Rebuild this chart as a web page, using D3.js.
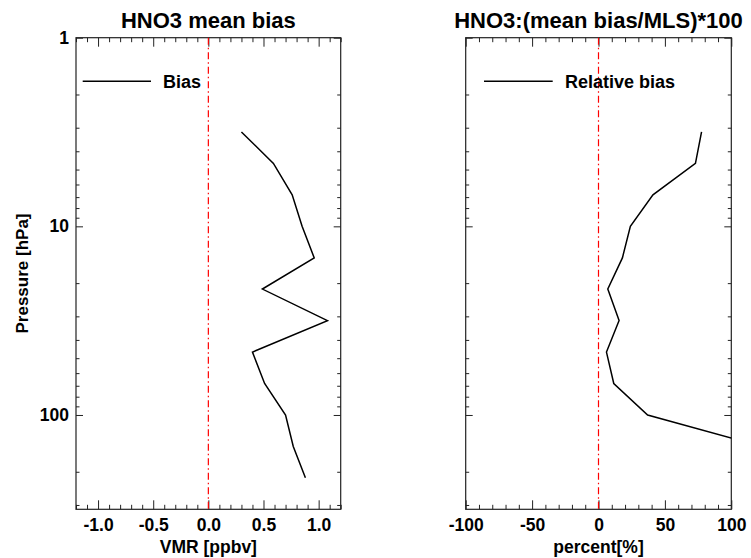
<!DOCTYPE html>
<html>
<head>
<meta charset="utf-8">
<script src="https://cdn.jsdelivr.net/npm/d3@7"></script>
<style>
  body { margin: 0; background: #fff; }
  svg text { font-family: "Liberation Sans", Arial, sans-serif; font-weight: bold; fill: #000; }
</style>
</head>
<body>
<svg id="chart"></svg>
<script>
/* DATA */
const pressure = [3.16, 4.64, 6.81, 10, 14.7, 21.5, 31.6, 46.4, 68.1, 100, 147, 215];
const bias = [0.30, 0.59, 0.76, 0.85, 0.96, 0.49, 1.08, 0.40, 0.51, 0.70, 0.77, 0.88];
const relBias = [77.6, 73.0, 41.0, 24.0, 18.0, 7.0, 15.5, 6.0, 11.5, 37.0, 123, 170];
const biasTicks = [-1.0, -0.5, 0.0, 0.5, 1.0];
const relTicks = [-100, -50, 0, 50, 100];
const pressureTicks = [1, 10, 100];
const pressureMinor = [2, 3, 4, 5, 6, 7, 8, 9, 20, 30, 40, 50, 60, 70, 80, 90, 200, 300];

/* CONSTANTS */
const width = 751,
  height = 558,
  plotTop = 37.7,
  plotBottom = 509.3,
  tickFont = 17.5,
  labelFont = 17.5;

const panels = [
  {
    left: 76, right: 340.7,
    domain: [-1.2, 1.2], ticks: biasTicks, minorStep: 0.1, fmt: d3.format(".1f"),
    values: bias, title: "HNO3 mean bias", xLabel: "VMR [ppbv]",
    legend: "Bias", legLine: [6.7, 75], legText: 87, yLabels: true
  },
  {
    left: 465.7, right: 731.3,
    domain: [-100, 100], ticks: relTicks, minorStep: 10, fmt: d3.format("d"),
    values: relBias, title: "HNO3:(mean bias/MLS)*100", xLabel: "percent[%]",
    legend: "Relative bias", legLine: [18.3, 87], legText: 99.3, yLabels: false
  }
];

const svg = d3.select("#chart")
  .attr("width", width)
  .attr("height", height);

const yScale = d3.scaleLog()
  .domain([1, Math.pow(10, 2.5)])
  .range([plotTop, plotBottom]);

panels.forEach((p, i) => drawPanel(p, i));

function drawPanel(p, i) {
  const xScale = d3.scaleLinear()
    .domain(p.domain)
    .range([p.left, p.right]);

  const minor = d3.range(p.domain[0], p.domain[1] + p.minorStep / 2, p.minorStep)
    .map(v => +v.toFixed(4))
    .filter(v => !p.ticks.some(t => Math.abs(t - v) < 1e-6));

  // plain hyphen, like the original plot
  const fmt = d => p.fmt(d).replace("\u2212", "-");

  const g = svg.append("g");

  // clip
  svg.append("clipPath")
    .attr("id", "clip" + i)
    .append("rect")
    .attr("x", p.left)
    .attr("y", plotTop)
    .attr("width", p.right - p.left)
    .attr("height", plotBottom - plotTop);

  // bottom axis, major + labels
  g.append("g")
    .attr("transform", `translate(0, ${plotBottom})`)
    .call(d3.axisBottom(xScale).tickValues(p.ticks).tickSize(-9).tickSizeOuter(0)
      .tickPadding(9.5).tickFormat(fmt))
    .call(styleAxis, tickFont);
  g.append("g")
    .attr("transform", `translate(0, ${plotBottom})`)
    .call(d3.axisBottom(xScale).tickValues(minor).tickSize(-4.5).tickSizeOuter(0).tickFormat(""))
    .call(styleAxis);

  // top axis
  g.append("g")
    .attr("transform", `translate(0, ${plotTop})`)
    .call(d3.axisTop(xScale).tickValues(p.ticks).tickSize(-9).tickSizeOuter(0).tickFormat(""))
    .call(styleAxis);
  g.append("g")
    .attr("transform", `translate(0, ${plotTop})`)
    .call(d3.axisTop(xScale).tickValues(minor).tickSize(-4.5).tickSizeOuter(0).tickFormat(""))
    .call(styleAxis);

  // left axis
  g.append("g")
    .attr("transform", `translate(${p.left}, 0)`)
    .call(d3.axisLeft(yScale).tickValues(pressureTicks).tickSize(-7).tickSizeOuter(0)
      .tickPadding(7).tickFormat(p.yLabels ? d3.format("d") : ""))
    .call(styleAxis, tickFont);
  g.append("g")
    .attr("transform", `translate(${p.left}, 0)`)
    .call(d3.axisLeft(yScale).tickValues(pressureMinor).tickSize(-3.5).tickSizeOuter(0).tickFormat(""))
    .call(styleAxis);

  // right axis
  g.append("g")
    .attr("transform", `translate(${p.right}, 0)`)
    .call(d3.axisRight(yScale).tickValues(pressureTicks).tickSize(-7).tickSizeOuter(0).tickFormat(""))
    .call(styleAxis);
  g.append("g")
    .attr("transform", `translate(${p.right}, 0)`)
    .call(d3.axisRight(yScale).tickValues(pressureMinor).tickSize(-3.5).tickSizeOuter(0).tickFormat(""))
    .call(styleAxis);

  // frame
  g.append("rect")
    .attr("x", p.left)
    .attr("y", plotTop)
    .attr("width", p.right - p.left)
    .attr("height", plotBottom - plotTop)
    .attr("fill", "none")
    .attr("stroke", "#222")
    .attr("stroke-width", 1.2);

  // zero line
  g.append("line")
    .attr("x1", xScale(0)).attr("x2", xScale(0))
    .attr("y1", plotTop).attr("y2", plotBottom)
    .attr("stroke", "#f00")
    .attr("stroke-width", 1.2)
    .attr("stroke-dasharray", "7,3,1.5,3");

  // profile line
  const lineGen = d3.line()
    .x(d => xScale(d[1]))
    .y(d => yScale(d[0]));

  g.append("path")
    .datum(d3.zip(pressure, p.values))
    .attr("clip-path", `url(#clip${i})`)
    .attr("fill", "none")
    .attr("stroke", "#000")
    .attr("stroke-width", 1.5)
    .attr("d", lineGen);

  // legend
  g.append("line")
    .attr("x1", p.left + p.legLine[0]).attr("x2", p.left + p.legLine[1])
    .attr("y1", 81.3).attr("y2", 81.3)
    .attr("stroke", "#000")
    .attr("stroke-width", 1.5);
  g.append("text")
    .attr("x", p.left + p.legText)
    .attr("y", 87.5)
    .style("font-size", "18px")
    .text(p.legend);

  // title
  g.append("text")
    .attr("x", (p.left + p.right) / 2)
    .attr("y", 27.5)
    .attr("text-anchor", "middle")
    .style("font-size", "22px")
    .text(p.title);

  // x label
  g.append("text")
    .attr("x", (p.left + p.right) / 2)
    .attr("y", 552.5)
    .attr("text-anchor", "middle")
    .style("font-size", labelFont + "px")
    .text(p.xLabel);
}

// y label
svg.append("text")
  .attr("transform", `translate(${28}, ${(plotTop + plotBottom) / 2}) rotate(-90)`)
  .attr("text-anchor", "middle")
  .style("font-size", "17px")
  .text("Pressure [hPa]");

function styleAxis(sel, fontSize) {
  sel.select(".domain").remove();
  sel.selectAll(".tick line").attr("stroke", "#222").attr("stroke-width", 1);
  if (fontSize) {
    sel.selectAll(".tick text")
      .style("font-size", fontSize + "px")
      .attr("fill", "#000");
  }
  sel.attr("font-size", null).attr("font-family", null);
}
</script>
</body>
</html>
